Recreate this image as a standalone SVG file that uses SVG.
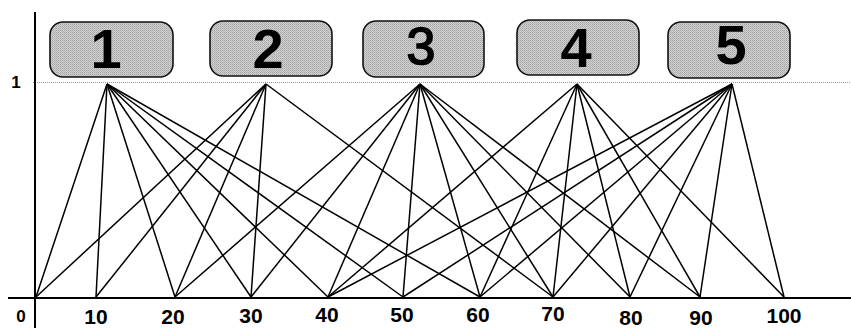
<svg xmlns="http://www.w3.org/2000/svg" width="851" height="328" viewBox="0 0 851 328">
<defs>
<pattern id="stip" width="2" height="2" patternUnits="userSpaceOnUse">
<rect width="2" height="2" fill="#d2d2d2"/>
<rect width="1" height="1" fill="#a4a4a4"/>
<rect x="1" y="1" width="1" height="1" fill="#b4b4b4"/>
</pattern>
</defs>
<style>
.box{fill:url(#stip);stroke:#111;stroke-width:1.6}
.num{font-family:"Liberation Sans",Arial,sans-serif;font-weight:bold;font-size:56px;text-anchor:middle;fill:#000}
.num3{font-family:"Liberation Sans",Arial,sans-serif;font-weight:normal;font-size:52px;text-anchor:middle;fill:#000;stroke:#000;stroke-width:1.6}
.axis{stroke:#000;stroke-width:2;fill:none}
.grid{stroke:#9a9a9a;stroke-width:1;stroke-dasharray:1 1;fill:none}
.lbl{font-family:"Liberation Sans",Arial,sans-serif;font-weight:bold;font-size:21px;text-anchor:middle;fill:#000}
.lbls{font-family:"Liberation Sans",Arial,sans-serif;font-weight:bold;font-size:17px;text-anchor:middle;fill:#000}
#connectors line{stroke:#000;stroke-width:1.5}
</style>
<rect width="851" height="328" fill="#fff"/>
<line class="grid" x1="33" y1="82.5" x2="851" y2="82.5"/>
<line class="axis" x1="35" y1="12" x2="35" y2="328"/>
<line class="axis" x1="8" y1="298" x2="851" y2="298"/>
<text class="lbls" x="16" y="88">1</text>
<text class="lbls" x="21" y="322">0</text>
<g id="ticks">
<text class="lbl" x="96" y="324">10</text>
<text class="lbl" x="173" y="324">20</text>
<text class="lbl" x="251" y="323">30</text>
<text class="lbl" x="327" y="322">40</text>
<text class="lbl" x="402" y="322">50</text>
<text class="lbl" x="478" y="322">60</text>
<text class="lbl" x="553" y="321">70</text>
<text class="lbl" x="631" y="325">80</text>
<text class="lbl" x="701" y="325">90</text>
<text class="lbl" x="784" y="323">100</text>
</g>
<g id="connectors">
<line x1="107" y1="84" x2="36" y2="297"/>
<line x1="107" y1="84" x2="96" y2="297"/>
<line x1="107" y1="84" x2="175" y2="297"/>
<line x1="107" y1="84" x2="251" y2="297"/>
<line x1="107" y1="84" x2="328" y2="297"/>
<line x1="107" y1="84" x2="403" y2="297"/>
<line x1="107" y1="84" x2="480" y2="297"/>
<line x1="266" y1="84" x2="36" y2="297"/>
<line x1="266" y1="84" x2="96" y2="297"/>
<line x1="266" y1="84" x2="175" y2="297"/>
<line x1="266" y1="84" x2="251" y2="297"/>
<line x1="266" y1="84" x2="553" y2="297"/>
<line x1="420" y1="84" x2="175" y2="297"/>
<line x1="420" y1="84" x2="251" y2="297"/>
<line x1="420" y1="84" x2="328" y2="297"/>
<line x1="420" y1="84" x2="403" y2="297"/>
<line x1="420" y1="84" x2="480" y2="297"/>
<line x1="420" y1="84" x2="553" y2="297"/>
<line x1="420" y1="84" x2="630" y2="297"/>
<line x1="420" y1="84" x2="700" y2="297"/>
<line x1="577" y1="84" x2="328" y2="297"/>
<line x1="577" y1="84" x2="480" y2="297"/>
<line x1="577" y1="84" x2="553" y2="297"/>
<line x1="577" y1="84" x2="630" y2="297"/>
<line x1="577" y1="84" x2="700" y2="297"/>
<line x1="577" y1="84" x2="784" y2="297"/>
<line x1="732" y1="84" x2="328" y2="297"/>
<line x1="732" y1="84" x2="403" y2="297"/>
<line x1="732" y1="84" x2="480" y2="297"/>
<line x1="732" y1="84" x2="553" y2="297"/>
<line x1="732" y1="84" x2="630" y2="297"/>
<line x1="732" y1="84" x2="700" y2="297"/>
<line x1="732" y1="84" x2="784" y2="297"/>
</g>
<g id="node-1">
<rect class="box" x="50" y="22" width="123" height="55" rx="13"/>
<text class="num" x="106" y="68">1</text>
</g>
<g id="node-2">
<rect class="box" x="210" y="21" width="122" height="55" rx="13"/>
<text class="num" x="268" y="68">2</text>
</g>
<g id="node-3">
<rect class="box" x="363" y="21" width="121" height="56" rx="13"/>
<text class="num3" x="421" y="64">3</text>
</g>
<g id="node-4">
<rect class="box" x="517" y="20" width="122" height="55" rx="13"/>
<text class="num" x="576" y="67">4</text>
</g>
<g id="node-5">
<rect class="box" x="668" y="22" width="122" height="56" rx="13"/>
<text class="num" x="731" y="64">5</text>
</g>
</svg>
